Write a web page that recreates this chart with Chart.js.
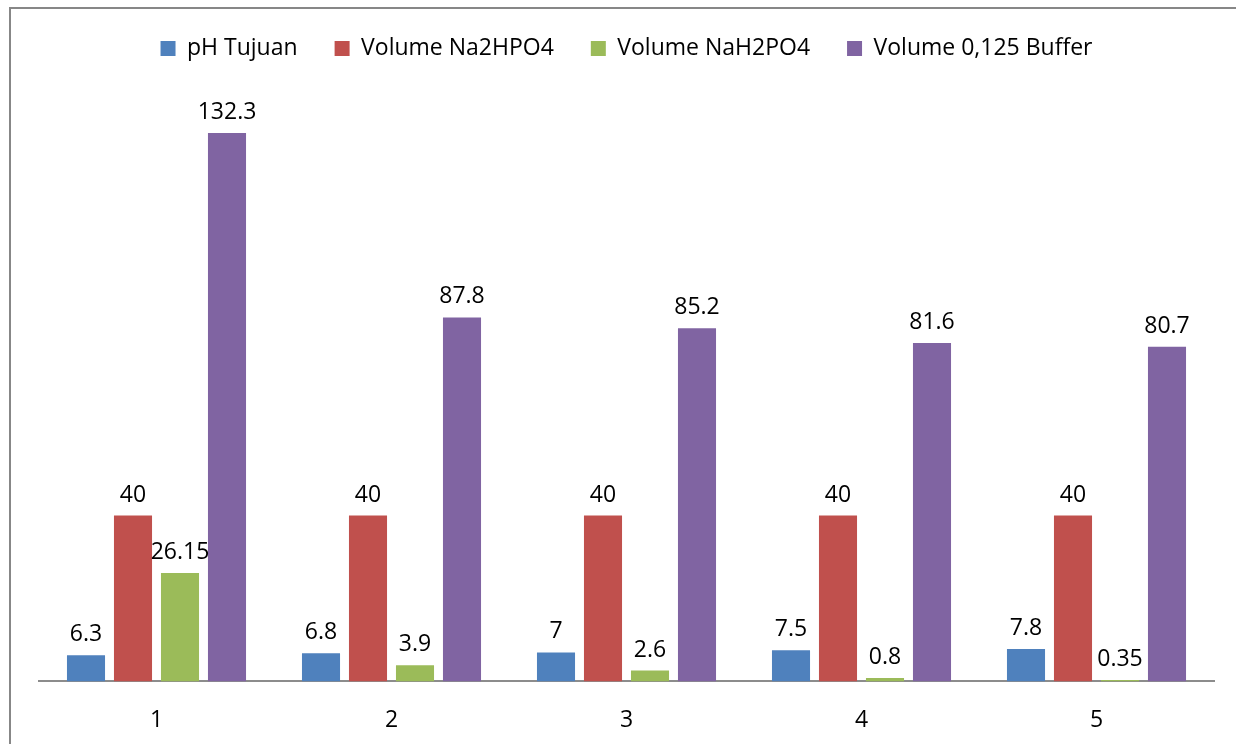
<!DOCTYPE html>
<html>
<head>
<meta charset="utf-8">
<script src="https://cdn.jsdelivr.net/npm/chart.js@4/dist/chart.umd.min.js"></script>
<style>
  html, body { margin: 0; padding: 0; background: #fff; overflow: hidden; }
  #frame { position: absolute; left: 9px; top: 7px; width: 1300px; height: 800px; border: 2px solid #878787; }
  #wrap { position: absolute; left: 0; top: 0; width: 1236px; height: 744px; }
</style>
</head>
<body>
<div id="frame"></div>
<div id="wrap"><canvas id="bar"></canvas></div>
<script>
var categories = ["1", "2", "3", "4", "5"];
var phTujuan = [6.3, 6.8, 7, 7.5, 7.8];
var volNa2HPO4 = [40, 40, 40, 40, 40];
var volNaH2PO4 = [26.15, 3.9, 2.6, 0.8, 0.35];
var volBuffer = [132.3, 87.8, 85.2, 81.6, 80.7];

var fontFamily = "'Open Sans', 'Noto Sans', sans-serif";

// draw the value above every bar
var valueLabels = {
    id: "valueLabels",
    afterDatasetsDraw: function (chart) {
        var ctx = chart.ctx;
        ctx.save();
        ctx.font = "23px " + fontFamily;
        ctx.fillStyle = "#000";
        ctx.textAlign = "center";
        ctx.textBaseline = "bottom";
        chart.data.datasets.forEach(function (ds, i) {
            chart.getDatasetMeta(i).data.forEach(function (bar, j) {
                ctx.fillText(String(ds.data[j]), bar.x, bar.y - 9);
            });
        });
        ctx.restore();
    }
};

// extra room under the legend
var legendGap = {
    id: "legendGap",
    beforeInit: function (chart) {
        var fit = chart.legend.fit;
        chart.legend.fit = function () {
            fit.bind(chart.legend)();
            this.height += 31;
        };
    }
};

var bCtx = document.getElementById("bar").getContext("2d");
var bar = new Chart(bCtx, {
    type: "bar",
    data: {
        labels: categories,
        datasets: [
            { label: "pH Tujuan", data: phTujuan, backgroundColor: "#4F81BD" },
            { label: "Volume Na2HPO4", data: volNa2HPO4, backgroundColor: "#C0504D" },
            { label: "Volume NaH2PO4", data: volNaH2PO4, backgroundColor: "#9BBB59" },
            { label: "Volume 0,125 Buffer", data: volBuffer, backgroundColor: "#8064A2" }
        ]
    },
    plugins: [valueLabels, legendGap],
    options: {
        responsive: true,
        maintainAspectRatio: false,
        animation: false,
        categoryPercentage: 0.8,
        barPercentage: 0.81,
        layout: {
            padding: { left: 39, right: 22, top: 0, bottom: -15 }
        },
        plugins: {
            legend: {
                position: "top",
                labels: {
                    boxWidth: 15,
                    boxHeight: 15,
                    padding: 37,
                    color: "#000",
                    font: { family: fontFamily, size: 23 }
                }
            },
            tooltip: { enabled: false }
        },
        scales: {
            y: {
                display: false,
                min: 0,
                max: 140
            },
            x: {
                grid: { display: false, drawTicks: false },
                border: { display: true, color: "#8c8c8c", width: 2 },
                ticks: {
                    color: "#000",
                    padding: 25,
                    font: { family: fontFamily, size: 23 }
                }
            }
        }
    }
});
</script>
</body>
</html>
